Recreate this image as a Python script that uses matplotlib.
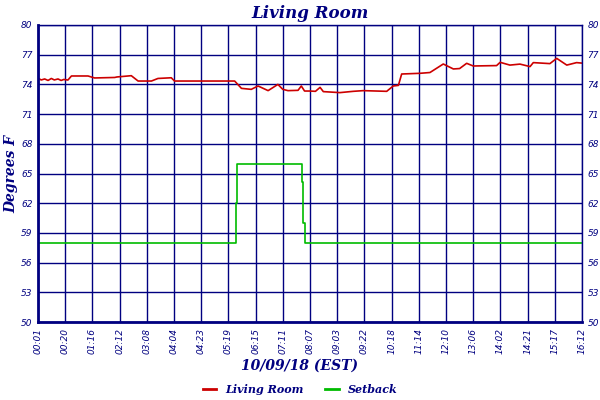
import matplotlib
matplotlib.use("Agg")
import matplotlib.pyplot as plt
from matplotlib.lines import Line2D

navy = "#000080"
tick_labels = ["00:01","00:20","01:16","02:12","03:08","04:04","04:23","05:19","06:15","07:11",
               "08:07","09:03","09:22","10:18","11:14","12:10","13:06","14:02","14:21","15:17","16:12"]
y_ticks = [50,53,56,59,62,65,68,71,74,77,80]

room_t = [0,0.12,0.245,0.37,0.49,0.6,0.735,0.85,0.95,1.10,1.23,1.84,2.08,2.82,2.9,3.43,3.68,4.17,4.41,4.90,5.02,
          7.23,7.48,7.84,8.09,8.2,8.46,8.82,9.0,9.19,9.56,9.68,9.80,10.0,10.2,10.37,10.49,11.10,11.59,11.96,12.82,
          13.06,13.25,13.37,14.04,14.41,14.90,15.27,15.5,15.76,16.0,16.86,16.99,17.35,17.72,18.09,18.21,18.82,
          19.07,19.44,19.80,20.0]
room_v = [74.62,74.45,74.55,74.4,74.6,74.45,74.55,74.4,74.5,74.44,74.85,74.85,74.65,74.7,74.75,74.88,74.34,74.34,74.6,74.67,74.34,
          74.34,73.6,73.5,73.84,73.7,73.37,74.0,73.5,73.37,73.4,73.84,73.33,73.33,73.3,73.7,73.27,73.17,73.3,73.37,73.3,
          73.84,73.9,75.05,75.12,75.2,76.06,75.56,75.6,76.13,75.86,75.9,76.23,75.95,76.05,75.8,76.2,76.1,
          76.63,75.95,76.2,76.15]

set_t = [0,7.28,7.28,7.33,7.33,9.70,9.70,9.75,9.75,9.80,9.80,20]
set_v = [58.0,58.0,62.0,62.0,66.0,66.0,64.1,64.1,60.0,60.0,58.0,58.0]

fig = plt.figure(figsize=(6,4), dpi=100)
ax = fig.add_axes([38/600, 1-322/400, 544/600, 297/400])
ax.set_xlim(0,20); ax.set_ylim(50,80)
ax.set_xticks(range(21)); ax.set_yticks(y_ticks)
ax.grid(True, color=navy, lw=1)
ax.set_axisbelow(True)
ax.plot(room_t, room_v, color="#cc0000", lw=1.2)
ax.plot(set_t, set_v, color="#00bb00", lw=1.2)
ax.set_xticklabels(tick_labels, rotation=90, fontsize=6.5, style="italic", color=navy)
ax.set_yticklabels([str(v) for v in y_ticks], fontsize=6.5, style="italic", color=navy)
ax.tick_params(length=0, pad=4, right=True, labelright=True)
for s in ["left","bottom"]:
    ax.spines[s].set_color(navy); ax.spines[s].set_linewidth(2)
for s in ["top","right"]:
    ax.spines[s].set_color(navy); ax.spines[s].set_linewidth(1)
ax.set_title("Living Room", fontsize=12, fontweight="bold", style="italic", color=navy, family="DejaVu Serif", pad=5)
ax.set_ylabel("Degrees F", fontsize=10, fontweight="bold", style="italic", color=navy, family="DejaVu Serif", labelpad=2)
fig.text(0.5, 0.075, "10/09/18 (EST)", ha="center", fontsize=10, fontweight="bold", style="italic", color=navy, family="DejaVu Serif")
handles = [Line2D([],[],color="#cc0000",lw=2), Line2D([],[],color="#00bb00",lw=2)]
leg = fig.legend(handles, ["Living Room","Setback"], loc="center", bbox_to_anchor=(0.5,0.027), ncol=2, frameon=False,
                 handlelength=1.2, columnspacing=2, prop={"size":8,"weight":"bold","style":"italic","family":"DejaVu Serif"})
for t in leg.get_texts(): t.set_color(navy)
fig.savefig("out.png")
